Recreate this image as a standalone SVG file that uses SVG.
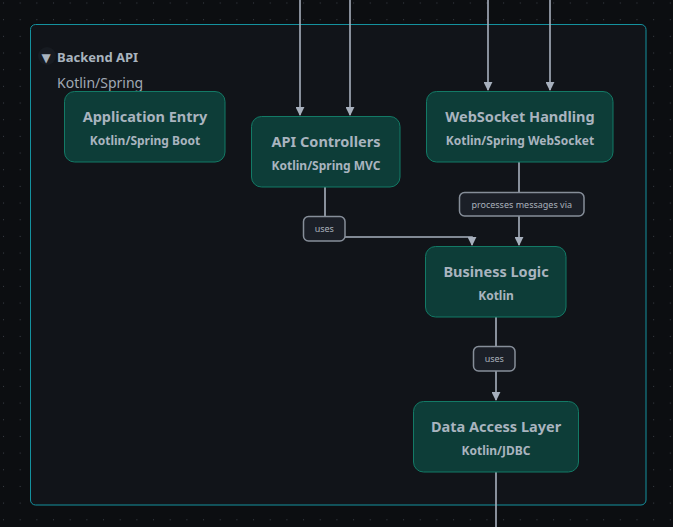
<svg xmlns="http://www.w3.org/2000/svg" width="673" height="527" viewBox="0 0 673 527">
<defs>
<pattern id="dots" x="3" y="2.5" width="16.67" height="16.67" patternUnits="userSpaceOnUse">
<rect x="0" y="0" width="1" height="1" fill="#3a3f47"/>
</pattern>
<marker id="arr" viewBox="0 0 10 10" refX="9" refY="5" markerWidth="9" markerHeight="9" markerUnits="userSpaceOnUse" orient="auto">
<path d="M0,0 L10,5 L0,10 z" fill="#a7b0bd"/>
</marker>
<style>
.node rect{fill:#0d3d38;stroke:#137a66;stroke-width:1}
.t{font-family:"Noto Sans","Open Sans",sans-serif;font-weight:bold;font-size:14.5px;fill:#a9b4bf;text-anchor:middle}
.s{font-family:"Noto Sans","Open Sans",sans-serif;font-weight:bold;font-size:12px;fill:#a9b4bf;text-anchor:middle}
.e{fill:none;stroke:#a7b0bd;stroke-width:1.6}
.lb rect{fill:#1b1f27;stroke:#868e99;stroke-width:1.5}
.lb text{font-family:"Noto Sans","Open Sans",sans-serif;font-size:9px;fill:#a9b1bb;text-anchor:middle}
</style>
</defs>
<rect width="673" height="527" fill="#0c0e11"/>
<rect width="673" height="527" fill="url(#dots)"/>
<g id="backend-api">
<rect x="30.5" y="24.5" width="615.5" height="480.5" rx="5" fill="#111419" stroke="#14919e" stroke-width="1"/>
<circle cx="47" cy="56" r="9" fill="#171b21"/>
<text x="41.5" y="62" font-family="DejaVu Sans, sans-serif" font-size="12px" fill="#a9b4bf">▼</text>
<text x="57" y="62" font-family="Noto Sans, sans-serif" font-weight="bold" font-size="13px" fill="#a9b4bf">Backend API</text>
<text x="57" y="88" font-family="Noto Sans, sans-serif" font-size="14px" fill="#a0a9b4">Kotlin/Spring</text>
</g>
<g id="connectors">
<path class="e" d="M300,0 V115" marker-end="url(#arr)"/>
<path class="e" d="M350,0 V115" marker-end="url(#arr)"/>
<path class="e" d="M488,0 V90" marker-end="url(#arr)"/>
<path class="e" d="M550,0 V90" marker-end="url(#arr)"/>
<path class="e" d="M325,187 V216"/>
<path class="e" d="M345,237 H472 V245" marker-end="url(#arr)"/>
<path class="e" d="M519,162 V192"/>
<path class="e" d="M519,216 V245" marker-end="url(#arr)"/>
<path class="e" d="M496,317 V346"/>
<path class="e" d="M496,371 V400" marker-end="url(#arr)"/>
<path class="e" d="M496,472 V527"/>
<g class="lb"><rect x="303.5" y="216.5" width="41.5" height="24.5" rx="5"/><text x="324.3" y="232">uses</text></g>
<g class="lb"><rect x="459.5" y="192.5" width="124.5" height="23.5" rx="5"/><text x="521.7" y="208">processes messages via</text></g>
<g class="lb"><rect x="473.5" y="346.5" width="41.5" height="24.5" rx="5"/><text x="494.3" y="362">uses</text></g>
</g>
<g id="application-entry" class="node">
<rect x="64.5" y="91.5" width="160.5" height="70.5" rx="10"/>
<text class="t" x="145" y="122">Application Entry</text>
<text class="s" x="145" y="145">Kotlin/Spring Boot</text>
</g>
<g id="api-controllers" class="node">
<rect x="251.5" y="116.5" width="148.5" height="70.5" rx="10"/>
<text class="t" x="326" y="147">API Controllers</text>
<text class="s" x="326" y="170">Kotlin/Spring MVC</text>
</g>
<g id="websocket-handling" class="node">
<rect x="426.5" y="91.5" width="186.5" height="70.5" rx="10"/>
<text class="t" x="520" y="122">WebSocket Handling</text>
<text class="s" x="520" y="145">Kotlin/Spring WebSocket</text>
</g>
<g id="business-logic" class="node">
<rect x="425.5" y="246.5" width="140.5" height="70.5" rx="10"/>
<text class="t" x="496" y="277">Business Logic</text>
<text class="s" x="496" y="300">Kotlin</text>
</g>
<g id="data-access-layer" class="node">
<rect x="413.5" y="401.5" width="165" height="70.5" rx="10"/>
<text class="t" x="496" y="432">Data Access Layer</text>
<text class="s" x="496" y="455">Kotlin/JDBC</text>
</g>
</svg>
